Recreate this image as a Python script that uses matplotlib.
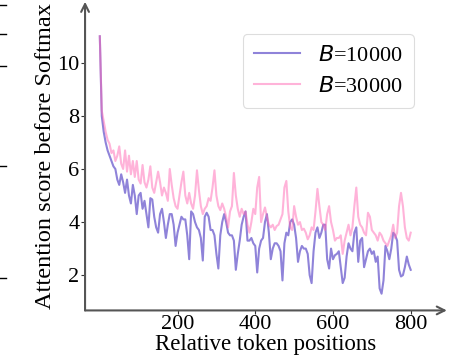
import numpy as np
import matplotlib
matplotlib.use("Agg")
import matplotlib.pyplot as plt
from matplotlib.lines import Line2D

plt.rcParams['font.family'] = ['Liberation Serif', 'DejaVu Serif']
plt.rcParams['mathtext.fontset'] = 'dejavusans'

# attention scores sampled every 5 token positions (0..800)
step = 5
score_b10000 = [
    11.0, 8.0, 7.4, 7.0, 6.7, 6.5, 6.3, 6.1, 6.0, 5.6,
    5.4, 5.8, 5.5, 5.1, 5.6, 5.0, 4.7, 5.4, 5.0, 4.3,
    5.0, 5.1, 4.5, 4.8, 4.3, 3.8, 4.9, 4.85, 4.2, 3.8,
    3.6, 4.3, 4.5, 4.0, 3.4, 3.9, 4.3, 4.3, 3.9, 3.1,
    3.6, 3.9, 4.2, 4.1, 4.1, 3.5, 2.6, 4.4, 4.3, 4.0,
    3.8, 3.7, 3.4, 2.55, 4.2, 4.35, 4.2, 3.7, 3.7, 3.5,
    2.8, 2.25, 3.5, 4.0, 4.3, 4.0, 3.6, 3.5, 3.5, 3.3,
    2.2, 2.8, 3.3, 3.9, 4.2, 4.4, 3.3, 3.3, 3.4, 3.2,
    3.1, 2.1, 3.0, 3.3, 3.4, 4.0, 4.3, 3.6, 2.6, 3.0,
    3.2, 3.2, 3.1, 2.9, 1.8, 3.2, 3.6, 3.5, 4.0, 4.1,
    3.9, 3.4, 2.5, 2.9, 3.1, 3.0, 3.0, 2.8, 2.0, 1.7,
    2.9, 3.6, 3.8, 3.4, 3.6, 3.9, 3.9, 2.6, 2.25, 3.0,
    2.6, 2.75, 2.8, 2.9, 2.3, 1.7, 1.9, 2.7, 3.2, 3.0,
    2.9, 3.6, 3.8, 2.5, 3.3, 3.4, 2.3, 2.6, 2.9, 3.0,
    2.8, 2.9, 2.5, 2.7, 1.5, 1.3, 1.8, 3.1, 2.9, 2.6,
    3.0, 3.6, 3.5, 3.3, 2.2, 1.95, 2.0, 2.3, 2.7, 2.4,
    2.2,
]
score_b30000 = [
    11.0, 8.2, 7.8, 7.4, 7.1, 6.95, 6.6, 6.7, 6.3, 6.5,
    6.85, 6.2, 6.0, 6.7, 5.9, 6.5, 5.8, 6.3, 5.7, 6.3,
    5.6, 5.45, 6.15, 5.5, 5.3, 5.6, 6.1, 5.3, 5.1, 5.5,
    5.9, 5.5, 5.0, 5.3, 5.1, 4.8, 6.0, 5.4, 4.9, 4.6,
    4.5, 5.0, 5.5, 5.9, 5.0, 4.7, 5.1, 4.7, 4.5, 5.0,
    5.95, 5.2, 4.6, 4.3, 4.5, 4.6, 4.9, 4.8, 5.3, 5.95,
    5.0, 4.6, 4.45, 4.7, 4.5, 4.2, 3.8, 4.4, 4.6, 5.85,
    5.0, 4.5, 4.2, 4.5, 4.3, 4.4, 3.9, 3.6, 4.0, 4.5,
    4.3, 5.3, 5.7, 4.0, 4.3, 4.55, 4.2, 3.9, 3.8, 3.9,
    3.7, 3.85, 3.9, 4.1, 4.3, 5.3, 5.55, 4.4, 3.8, 3.7,
    4.6, 4.2, 3.9, 4.0, 3.7, 3.75, 3.6, 3.35, 3.5, 3.8,
    3.7, 4.4, 5.25, 4.6, 4.0, 3.9, 3.7, 4.3, 4.6, 4.0,
    3.7, 3.3, 3.4, 3.4, 3.5, 2.8, 3.3, 3.6, 3.9, 3.5,
    3.8, 4.6, 5.3, 4.2, 3.9, 3.8, 3.6, 3.5, 4.35, 4.2,
    3.7, 3.6, 3.5, 3.3, 3.6, 3.5, 3.3, 3.2, 3.1, 3.3,
    3.5, 3.9, 3.4, 3.6, 4.6, 5.1, 4.6, 3.8, 3.4, 3.3,
    3.6,
]
labels = ['$B$=10000', '$B$=30000']
xticks = [200, 400, 600, 800]
yticks = [2, 4, 6, 8, 10]

pos_a = np.arange(len(score_b10000)) * step
pos_b = np.arange(len(score_b30000)) * step

fig = plt.figure(figsize=(4.5, 3.56), dpi=100)
ax = fig.add_axes([0.189, 0.128, 0.804, 0.867])

ax.plot(pos_a, score_b10000, color='slateblue', alpha=0.75, lw=1.5, label=labels[0])
ax.plot(pos_b, score_b30000, color='hotpink', alpha=0.5, lw=1.5, label=labels[1])

ax.set_xlim(-38, 893)
ax.set_ylim(0.67, 12.3)
ax.set_xticks(xticks)
ax.set_yticks(yticks)
ax.tick_params(labelsize=16, length=3, width=0.8, pad=1, color='#333333')
ax.tick_params(axis='x', pad=0)

for s in ax.spines.values():
    s.set_visible(False)
arrow = dict(arrowstyle='->', color='#555555', lw=1.5, mutation_scale=14,
             shrinkA=0, shrinkB=0)
ax.annotate('', xy=(1, 0), xytext=(0, 0), xycoords='axes fraction', arrowprops=arrow)
ax.annotate('', xy=(0, 1), xytext=(0, 0), xycoords='axes fraction', arrowprops=arrow)

ax.set_xlabel('Relative token positions', fontsize=16.5, labelpad=0)
ax.set_ylabel('Attention score before Softmax', fontsize=17.5, labelpad=1)

leg = ax.legend(loc='upper right', bbox_to_anchor=(0.909, 0.894), fontsize=16,
                handlelength=2.1, handletextpad=0.8, borderpad=0.5,
                labelspacing=0.45, borderaxespad=0, fancybox=True, framealpha=1.0)
leg.get_frame().set_edgecolor('#dddddd')
leg.get_frame().set_linewidth(0.8)

# clipped edge of the neighbouring panel on the far left
for yy in [5, 34, 66, 166, 278]:
    fig.add_artist(Line2D([0, 6 / 450], [1 - yy / 356] * 2, color='black', lw=1.0))

fig.savefig('out.png', dpi=100)
